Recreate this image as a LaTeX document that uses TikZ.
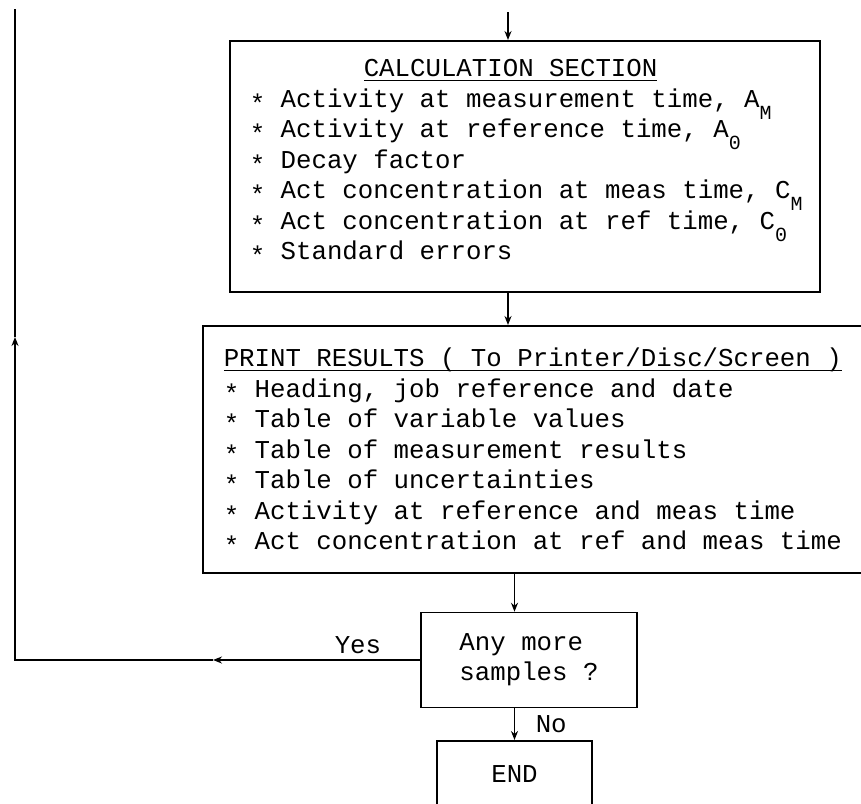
\documentclass[tikz,border=0pt]{standalone}
\usepackage{fontspec}
\setmonofont{Liberation Mono}
\usetikzlibrary{arrows.meta}

% underlined heading: rule drawn just below the baseline
\newsavebox\hdbox
\newcommand{\headline}[1]{\sbox\hdbox{#1}\rlap{\rule[-4.5pt]{\wd\hdbox}{1.3pt}}\usebox\hdbox}
% typewriter style subscript, dropped well below the line
\newcommand{\lowsub}[1]{\raisebox{-12pt}[0pt][0pt]{\fontsize{20}{20}\selectfont #1}}
% asterisk set a little lower
\newcommand{\itm}{\raisebox{-5pt}{*}}

\begin{document}
\begin{tikzpicture}[x=1pt, y=-1pt, line width=1.5pt,
  box/.style={draw, line width=1.5pt, inner sep=0pt},
  body/.style={inner sep=0pt, anchor=north west, align=left,
               font=\ttfamily\fontsize{25.75}{30.5}\selectfont},
  lbl/.style={inner sep=0pt, font=\ttfamily\fontsize{25.75}{30}\selectfont},
  flow/.style={-{Stealth[length=9pt,width=7pt]}}]

\clip (0,0) rectangle (861,803);

% calculation box
\node[box, anchor=north west, minimum width=590pt, minimum height=251pt] (calc) at (229,40) {};
\node[body] (calctext) at (249,52) {\rule{0pt}{24pt}\hspace*{114pt}\headline{CALCULATION SECTION}\\
\itm{} Activity at measurement time, A\lowsub{M}\\
\itm{} Activity at reference time, A\lowsub{0}\\
\itm{} Decay factor\\
\itm{} Act concentration at meas time, C\lowsub{M}\\
\itm{} Act concentration at ref time, C\lowsub{0}\\
\itm{} Standard errors};

% print box (runs off the right edge)
\node[box, anchor=north west, minimum width=664pt, minimum height=247pt] (print) at (202,325) {};
\node[body] (printtext) at (223,342) {\rule{0pt}{24pt}\headline{PRINT RESULTS ( To Printer/Disc/Screen )}\\
\itm{} Heading, job reference and date\\
\itm{} Table of variable values\\
\itm{} Table of measurement results\\
\itm{} Table of uncertainties\\
\itm{} Activity at reference and meas time\\
\itm{} Act concentration at ref and meas time};

% decision
\node[box, minimum width=216pt, minimum height=95pt, align=left,
      font=\ttfamily\fontsize{25.75}{30}\selectfont] (query) at (529,660) {Any more\\samples ?};

% end box (runs off the bottom edge)
\node[box, anchor=north, minimum width=155pt, text height=42pt, text depth=50pt,
      font=\ttfamily\fontsize{25.75}{30}\selectfont] (endbox) at (514.5,740) {END};

% free ends and mid-line arrow points
\coordinate (topin) at (508,12);
\coordinate (leftx) at (15,9);
\coordinate (upmid) at (15,337);
\coordinate (yesmid) at (213,660);

% main flow
\draw[flow] (topin) -- (topin |- calc.north);
\draw[flow] (topin |- calc.south) -- (topin |- print.north);
\draw[flow] (endbox.north |- print.south) -- (endbox.north |- query.north);
\draw[flow] (endbox.north |- query.south) -- (endbox.north);

% loop back for more samples
\draw[flow] (query.west) -- (yesmid);
\draw[flow] (yesmid) -- (leftx |- query.west) -- (upmid);
\draw (upmid) -- (leftx);

\node[lbl, anchor=base west] (yeslbl) at (334,653) {Yes};
\node[lbl, anchor=base west] (nolbl) at (535,732) {No};
\end{tikzpicture}
\end{document}
